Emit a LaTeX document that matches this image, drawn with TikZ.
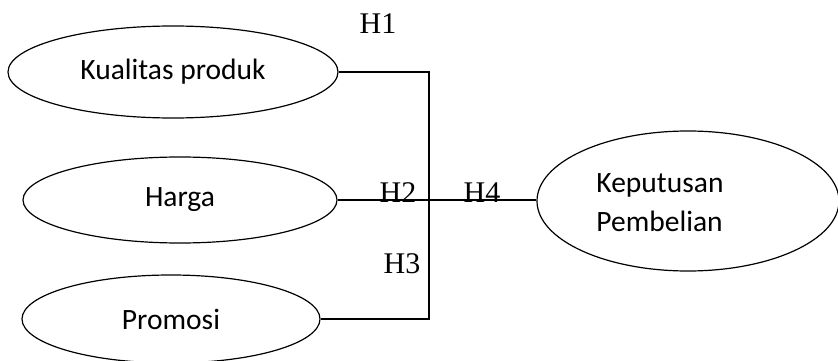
\documentclass[tikz,border=0pt]{standalone}
\usepackage{fontspec}
\setmainfont{Liberation Serif}
\newfontfamily\calib{Carlito}
\usetikzlibrary{shapes.geometric}
\begin{document}
\begin{tikzpicture}[x=1pt,y=-1pt,
  var/.style={ellipse,draw,line width=1.2pt,inner sep=0pt,font=\calib\fontsize{29.5}{35}\selectfont},
  conn/.style={line width=1.2pt},
  hlab/.style={font=\fontsize{30}{35}\selectfont,inner sep=0pt}]
\useasboundingbox (0,0) rectangle (838,361);
\node[var,minimum width=330pt,minimum height=92pt] (k) at (173,72) {Kualitas produk};
\node[var,minimum width=314pt,minimum height=86pt] (h) at (180,200) {Harga};
\node[var,minimum width=298pt,minimum height=88pt] (p) at (171,319) {Promosi};
\node[var,minimum width=302pt,minimum height=140pt] (kp) at (688,201) {};
\node[font=\calib\fontsize{29.5}{39}\selectfont,align=left,inner sep=0pt] (kpt) at (660,203) {Keputusan\\Pembelian};
\coordinate (j) at (429,200);
\draw[conn] (k.east) -| (j) |- (p.east);
\draw[conn] (h.east) -- (h.east -| kp.west);
\node[hlab] (h1) at (378,24) {H1};
\node[hlab] (h2) at (398,193) {H2};
\node[hlab] (h4) at (482,193) {H4};
\node[hlab] (h3) at (402,264) {H3};
\end{tikzpicture}
\end{document}
